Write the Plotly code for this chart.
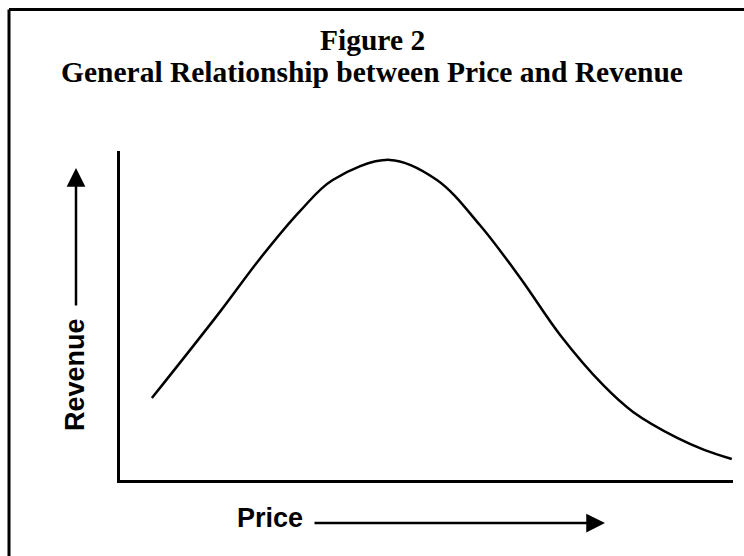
import plotly.graph_objects as go

# Data (arbitrary units)
price = [5.2, 16.3, 22.8, 29.4, 34.7, 44.0, 51.7, 58.7, 65.3, 71.8, 78.8, 83.7, 90.9, 95.4, 99.8]
revenue = [24.9, 51.1, 67.2, 81.8, 91.2, 97.3, 91.2, 77.5, 61.4, 44.1, 28.9, 20.7, 12.8, 9.1, 6.4]

title_line1 = "Figure 2"
title_line2 = "General Relationship between Price and Revenue"
x_label = "Price"
y_label = "Revenue"

W, H = 744, 556
L, R, T, B = 120, 11, 151, 76
pw, ph = W - L - R, H - T - B

def px(x):
    return (x - L) / pw

def py(y):
    return (H - B - y) / ph

fig = go.Figure()
fig.add_trace(go.Scatter(x=price, y=revenue, mode="lines",
                         line=dict(color="black", width=2.5, shape="spline", smoothing=1.0),
                         hoverinfo="skip", showlegend=False))

serif = "Liberation Serif, Times New Roman, serif"
sans = "Liberation Sans, Arial, sans-serif"

annotations = [
    dict(text=f"<b>{title_line1}</b>", x=px(372), y=py(40), xref="paper", yref="paper",
         showarrow=False, font=dict(family=serif, size=29.5, color="black"), xanchor="center", yanchor="middle"),
    dict(text=f"<b>{title_line2}</b>", x=px(372), y=py(72), xref="paper", yref="paper",
         showarrow=False, font=dict(family=serif, size=29.5, color="black"), xanchor="center", yanchor="middle"),
    dict(text=f"<b>{y_label}</b>", x=px(75), y=py(375), xref="paper", yref="paper", textangle=-90,
         showarrow=False, font=dict(family=sans, size=27, color="black"), xanchor="center", yanchor="middle"),
    dict(text=f"<b>{x_label}</b>", x=px(270), y=py(518), xref="paper", yref="paper",
         showarrow=False, font=dict(family=sans, size=27, color="black"), xanchor="center", yanchor="middle"),
    # y arrow
    dict(text="", x=px(76), y=py(168), xref="paper", yref="paper", showarrow=True,
         ax=0, ay=139, arrowhead=2, arrowsize=1.5, arrowwidth=2.5, arrowcolor="black", standoff=0),
    # x arrow
    dict(text="", x=px(605), y=py(523), xref="paper", yref="paper", showarrow=True,
         ax=-292, ay=0, arrowhead=2, arrowsize=1.5, arrowwidth=2.5, arrowcolor="black", standoff=0),
]

shapes = [
    dict(type="line", xref="paper", yref="paper", x0=px(9), x1=px(9), y0=py(H + 4), y1=py(9.5),
         line=dict(color="black", width=3)),
    dict(type="line", xref="paper", yref="paper", x0=px(9), x1=px(W + 4), y0=py(9.5), y1=py(9.5),
         line=dict(color="black", width=3)),
]

fig.update_layout(
    width=W, height=H,
    margin=dict(l=L, r=R, t=T, b=B),
    paper_bgcolor="white", plot_bgcolor="white",
    xaxis=dict(range=[0, 100], showgrid=False, zeroline=False, showticklabels=False, ticks="",
               showline=True, linecolor="black", linewidth=2.5, fixedrange=True),
    yaxis=dict(range=[0, 100], showgrid=False, zeroline=False, showticklabels=False, ticks="",
               showline=True, linecolor="black", linewidth=2.5, fixedrange=True),
    annotations=annotations,
    shapes=shapes,
)

fig.write_html("out.html", config={"displayModeBar": False},
               post_script="document.body.style.margin='0';document.body.style.overflow='hidden';")
